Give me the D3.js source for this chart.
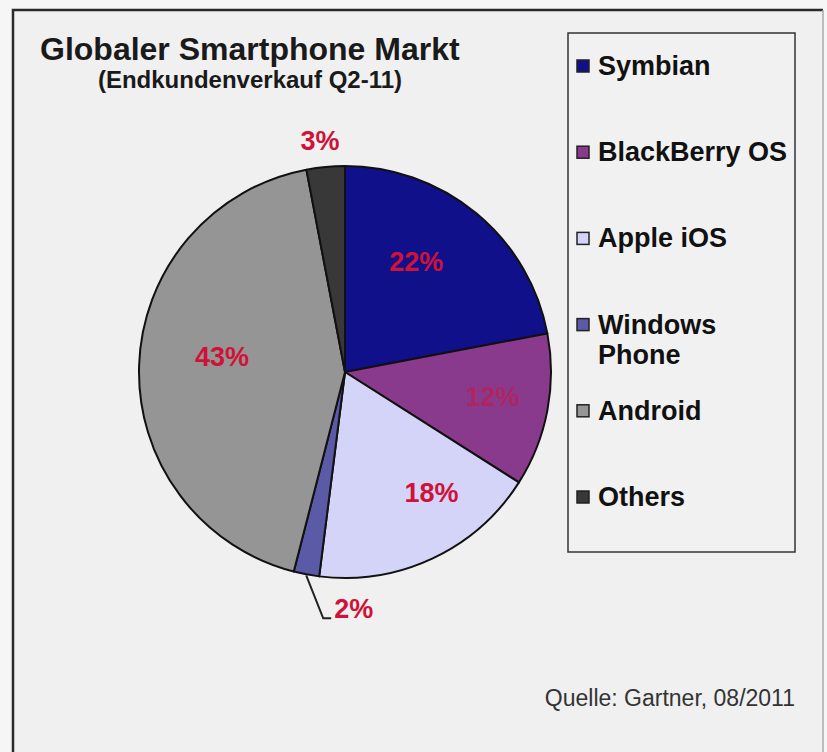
<!DOCTYPE html>
<html>
<head>
<meta charset="utf-8">
<script src="https://cdn.jsdelivr.net/npm/d3@7"></script>
<style>
  html, body { margin: 0; padding: 0; background: #f6f6f7; }
  svg { display: block; }
  text { font-family: "Liberation Sans", Arial, sans-serif; }
</style>
</head>
<body>
<svg id="chart" width="827" height="752"></svg>
<script>
// ---- data ----
const categories = ["Symbian", "BlackBerry OS", "Apple iOS", "Windows Phone", "Android", "Others"];
const shares = [22, 12, 18, 2, 43, 3];
const pctLabels = ["22%", "12%", "18%", "2%", "43%", "3%"];
const legendLines = [["Symbian"], ["BlackBerry OS"], ["Apple iOS"], ["Windows", "Phone"], ["Android"], ["Others"]];
const titleText = "Globaler Smartphone Markt";
const subtitleText = "(Endkundenverkauf Q2-11)";
const sourceText = "Quelle: Gartner, 08/2011";

// ---- styles ----
const colors = ["#10108a", "#8a3a8c", "#d4d4f8", "#5a5aa6", "#959595", "#383838"];
const labelColor = "#cf1238";

const svg = d3.select("#chart");

// frame
svg.append("rect").attr("x", 13).attr("y", 10).attr("width", 810).attr("height", 770)
  .attr("fill", "#f0f0f1").attr("stroke", "none");
svg.append("path").attr("d", "M13,790L13,10L823,10")
  .attr("fill", "none").attr("stroke", "#2a2a2a").attr("stroke-width", 2.5);
svg.append("path").attr("d", "M823,10L823,790")
  .attr("fill", "none").attr("stroke", "#aaa").attr("stroke-width", 1.5);

// title
svg.append("text").attr("x", 40).attr("y", 60)
  .attr("font-size", 32).attr("font-weight", "bold").attr("fill", "#1a1a1a")
  .text(titleText);
svg.append("text").attr("x", 250).attr("y", 88).attr("text-anchor", "middle")
  .attr("font-size", 24).attr("font-weight", "bold").attr("fill", "#1a1a1a")
  .text(subtitleText);

// pie
const cx = 345, cy = 372, R = 206;
const pie = d3.pie().sort(null).value(d => d)(shares);
const arc = d3.arc().innerRadius(0).outerRadius(R);
const g = svg.append("g").attr("transform", `translate(${cx},${cy})`);
g.selectAll("path").data(pie).join("path")
  .attr("d", arc)
  .attr("fill", (d, i) => colors[i])
  .attr("stroke", "#111").attr("stroke-width", 2).attr("stroke-linejoin", "round");

// labels (inside: centroid of label arc, with small nudges to mimic the original placement)
const inside = d3.arc().innerRadius(0).outerRadius(2 * 140);
const outside = d3.arc().innerRadius(0).outerRadius(2 * 233);
const nudges = [[-18, -3], [10, -2], [27, -6], [0, 0], [17, -11], [-3, 0]];
pie.forEach((d, i) => {
  if (i === 3) {
    // leader line for the small slice
    const a = (d.startAngle + d.endAngle) / 2;
    const sx = Math.sin(a) * (R + 1), sy = -Math.cos(a) * (R + 1);
    const ex = sx + 17, ey = sy + 43;
    g.append("path").attr("d", `M${sx},${sy}L${ex},${ey}L${ex + 8},${ey}`)
      .attr("fill", "none").attr("stroke", "#222").attr("stroke-width", 2);
    g.append("text").attr("x", ex + 11).attr("y", ey)
      .attr("font-size", 27).attr("font-weight", "bold").attr("fill", labelColor)
      .text(pctLabels[i]);
    return;
  }
  const c = (i === 5 ? outside : inside).centroid(d);
  g.append("text")
    .attr("x", c[0] + nudges[i][0]).attr("y", c[1] + nudges[i][1])
    .attr("text-anchor", "middle").attr("dy", "0.36em")
    .attr("font-size", 27).attr("font-weight", "bold")
    .attr("fill", labelColor).attr("fill-opacity", i === 1 ? 0.5 : 1)
    .text(pctLabels[i]);
});

// legend
svg.append("rect").attr("x", 568).attr("y", 33).attr("width", 227).attr("height", 519)
  .attr("fill", "#f1f1f2").attr("stroke", "#333").attr("stroke-width", 1.5);
const legendY = d3.scalePoint().domain(categories).range([66, 497]);
const lg = svg.append("g");
categories.forEach((c, i) => {
  const y = legendY(c);
  lg.append("rect").attr("x", 577).attr("y", y - 6).attr("width", 12).attr("height", 12)
    .attr("fill", colors[i]).attr("stroke", "#222").attr("stroke-width", 1.5);
  legendLines[i].forEach((line, j) => {
    lg.append("text").attr("x", 598).attr("y", y + 9 + j * 30)
      .attr("font-size", 27).attr("font-weight", "bold").attr("fill", "#111")
      .text(line);
  });
});

// source
svg.append("text").attr("x", 795).attr("y", 706).attr("text-anchor", "end")
  .attr("font-size", 23).attr("fill", "#333")
  .text(sourceText);
</script>
</body>
</html>
